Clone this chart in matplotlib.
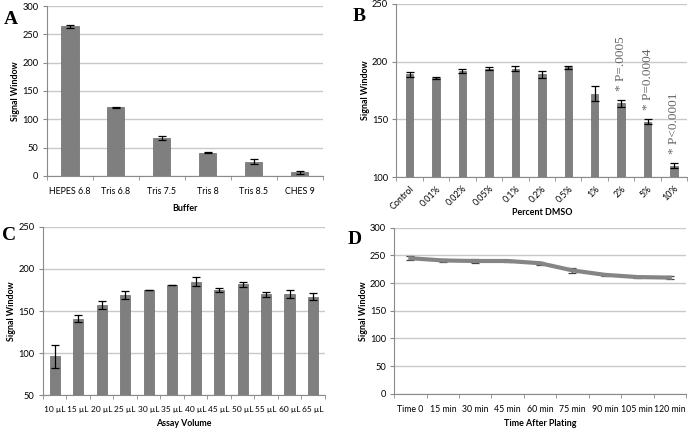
import matplotlib
matplotlib.use("Agg")
import matplotlib.pyplot as plt
import numpy as np

# Panel A
buffers = ["HEPES 6.8", "Tris 6.8", "Tris 7.5", "Tris 8", "Tris 8.5", "CHES 9"]
buffer_vals = [264, 121, 67, 41, 25, 6]
buffer_err = [2, 1, 4, 1, 4, 3]

# Panel B
dmso = ["Control", "0.01%", "0.02%", "0.05%", "0.1%", "0.2%", "0.5%", "1%", "2%", "5%", "10%"]
dmso_vals = [189, 186, 192, 194, 194, 189, 195, 172, 164, 148, 110]
dmso_err = [2, 1, 2, 1, 2, 3, 1.5, 6.5, 3, 2, 2]
dmso_notes = {"2%": "* P=.0005", "5%": "* P=0.0004", "10%": "* P<0.0001"}

# Panel C
volumes = ["10 µL", "15 µL", "20 µL", "25 µL", "30 µL", "35 µL", "40 µL", "45 µL",
           "50 µL", "55 µL", "60 µL", "65 µL"]
volume_vals = [96, 141, 157, 169, 175, 181, 185, 175, 182, 170, 170, 167]
volume_err = [14, 4, 5, 5, 0.5, 0.5, 5, 2, 3, 3, 5, 4]

# Panel D
times = ["Time 0", "15 min", "30 min", "45 min", "60 min", "75 min", "90 min", "105 min", "120 min"]
time_vals = [245, 241, 240, 240, 236, 223, 215, 211, 210]
time_err = [4, 2, 3, 1, 3, 5, 2, 2, 2]

BAR = "#7f7f7f"
GRID = "#c9c9c9"
SPINE = "#8a8a8a"
FONT = "Lato"
TS = 6.4

fig = plt.figure(figsize=(6.88, 4.29), dpi=100)


def style(ax, n, ylim, yticks, xlabels, xlabel, rot=0, xs=TS, xlp=4):
    ax.set_xlim(-0.5, n - 0.5)
    ax.set_ylim(*ylim)
    ax.set_yticks(yticks)
    ax.set_yticklabels([str(v) for v in yticks], fontsize=TS + 0.3, family=FONT)
    ax.yaxis.grid(True, color=GRID, lw=1.0)
    ax.set_axisbelow(True)
    for s in ["top", "right"]:
        ax.spines[s].set_visible(False)
    ax.spines["left"].set_color(SPINE)
    ax.spines["bottom"].set_color(SPINE)
    ax.tick_params(axis="y", length=3, color=SPINE, pad=3)
    ax.set_xticks(np.arange(n))
    if rot:
        ax.set_xticklabels(xlabels, fontsize=xs, family=FONT, rotation=rot, ha="right",
                           rotation_mode="anchor")
        ax.tick_params(axis="x", length=0, pad=5)
    else:
        ax.set_xticklabels(xlabels, fontsize=xs, family=FONT)
        ax.tick_params(axis="x", length=0, pad=8)
    ax.set_xticks(np.arange(n + 1) - 0.5, minor=True)
    ax.tick_params(axis="x", which="minor", length=3, color=SPINE)
    ax.set_xlabel(xlabel, fontsize=TS, family=FONT, fontweight="bold", labelpad=xlp)
    ax.set_ylabel("Signal Window", fontsize=TS, family=FONT, fontweight="bold", labelpad=1.5)


ekw = dict(ecolor="black", elinewidth=0.9, capsize=3, capthick=0.9)

# A
axA = fig.add_axes([0.068, 0.590, 0.401, 0.396])
xA = np.arange(len(buffers))
axA.bar(xA, buffer_vals, width=0.38, color=BAR, edgecolor="#6a6a6a", lw=0.5,
        yerr=buffer_err, error_kw=ekw)
style(axA, len(buffers), (0, 300), list(range(0, 301, 50)), buffers, "Buffer", xlp=5.5)
fig.text(0.005, 0.945, "A", fontsize=14, fontweight="bold", family="Liberation Serif")

# B
axB = fig.add_axes([0.576, 0.587, 0.423, 0.404])
xB = np.arange(len(dmso))
axB.bar(xB, dmso_vals, width=0.28, color=BAR, edgecolor="#6a6a6a", lw=0.5,
        yerr=dmso_err, error_kw=ekw)
style(axB, len(dmso), (100, 250), list(range(100, 251, 50)), dmso, "Percent DMSO", rot=45,
      xlp=-2)
for lab, txt in dmso_notes.items():
    i = dmso.index(lab)
    axB.text(i, dmso_vals[i] + dmso_err[i] + 8, txt, rotation=90, ha="center", va="bottom",
             fontsize=9.5, family="Liberation Serif", color="#666666")
fig.text(0.513, 0.952, "B", fontsize=14, fontweight="bold", family="Liberation Serif")

# C
axC = fig.add_axes([0.0625, 0.079, 0.4095, 0.392])
xC = np.arange(len(volumes))
axC.bar(xC, volume_vals, width=0.43, color=BAR, edgecolor="#6a6a6a", lw=0.5,
        yerr=volume_err, error_kw=ekw)
style(axC, len(volumes), (50, 250), list(range(50, 251, 50)), volumes, "Assay Volume", xs=6.0)
fig.text(0.003, 0.44, "C", fontsize=14, fontweight="bold", family="Liberation Serif")

# D
axD = fig.add_axes([0.573, 0.082, 0.424, 0.387])
xD = np.arange(len(times))
axD.errorbar(xD, time_vals, yerr=time_err, color="#858585", lw=3, ecolor="#444444",
             elinewidth=0.9, capsize=3, capthick=0.9)
style(axD, len(times), (0, 300), list(range(0, 301, 50)), times, "Time After Plating", xs=6.3)
fig.text(0.505, 0.432, "D", fontsize=14, fontweight="bold", family="Liberation Serif")

fig.savefig("out.png", dpi=100)
